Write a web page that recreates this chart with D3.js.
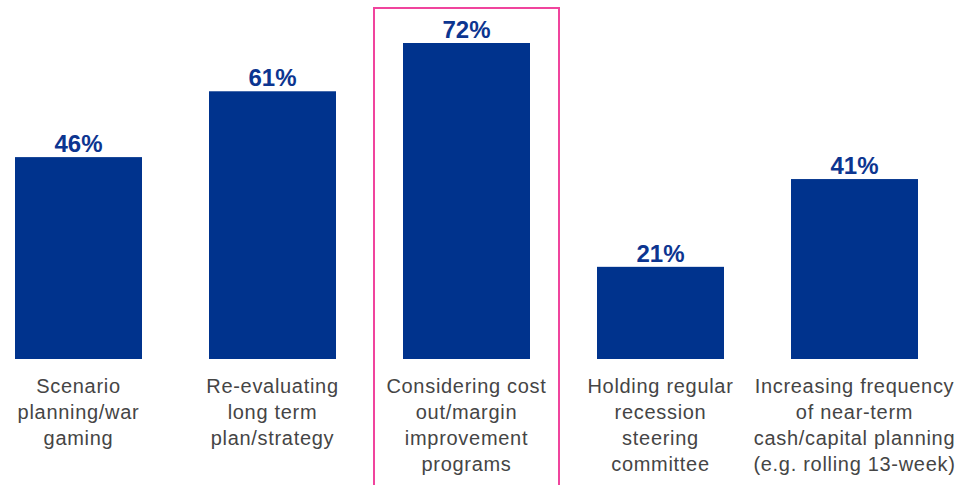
<!DOCTYPE html>
<html><head><meta charset="utf-8">
<script src="https://cdn.jsdelivr.net/npm/d3@7/dist/d3.min.js"></script>
<style>html,body{margin:0;padding:0;background:#fff;}svg{display:block;}</style>
</head><body>
<svg id="chart" width="971" height="485"></svg>
<script>
const categories = [
  ["Scenario", "planning/war", "gaming"],
  ["Re-evaluating", "long term", "plan/strategy"],
  ["Considering cost", "out/margin", "improvement", "programs"],
  ["Holding regular", "recession", "steering", "committee"],
  ["Increasing frequency", "of near-term", "cash/capital planning", "(e.g. rolling 13-week)"]
];
const values = [46, 61, 72, 21, 41];
const highlighted = [2];

const svg = d3.select("#chart");
const keys = categories.map((c, i) => i);
const x = d3.scaleBand().domain(keys).range([-18.5, 951.5]).paddingInner(0.3454).paddingOuter(0.1727);
const y = d3.scaleLinear().domain([0, 72]).range([359, 43]);

svg.selectAll("rect.hl").data(highlighted).join("rect")
  .attr("class", "hl")
  .attr("x", d => x(d) + x.bandwidth() / 2 - 92.5)
  .attr("y", 8)
  .attr("width", 185)
  .attr("height", 490)
  .attr("fill", "none")
  .attr("stroke", "#f0449d")
  .attr("stroke-width", 2);

svg.selectAll("rect.bar").data(values).join("rect")
  .attr("class", "bar")
  .attr("x", (d, i) => x(i))
  .attr("y", d => y(d))
  .attr("width", x.bandwidth())
  .attr("height", d => y(0) - y(d))
  .attr("fill", "#00338d");

svg.selectAll("text.val").data(values).join("text")
  .attr("class", "val")
  .attr("x", (d, i) => x(i) + x.bandwidth() / 2)
  .attr("y", d => y(d) - 5)
  .attr("text-anchor", "middle")
  .attr("font-family", "'Liberation Sans', Arial, sans-serif")
  .attr("font-weight", "bold")
  .attr("font-size", 24)
  .attr("fill", "#0c3590")
  .text(d => d + "%");

const lbl = svg.selectAll("text.cat").data(categories).join("text")
  .attr("class", "cat")
  .attr("text-anchor", "middle")
  .attr("font-family", "'Liberation Sans', Arial, sans-serif")
  .attr("font-size", 20)
  .attr("letter-spacing", 0.7)
  .attr("fill", "#454545");
lbl.selectAll("tspan").data((d, i) => d.map(t => ({t, i}))).join("tspan")
  .attr("x", d => x(d.i) + x.bandwidth() / 2)
  .attr("y", (d, j) => 393 + j * 26)
  .text(d => d.t);
</script>
</body></html>
